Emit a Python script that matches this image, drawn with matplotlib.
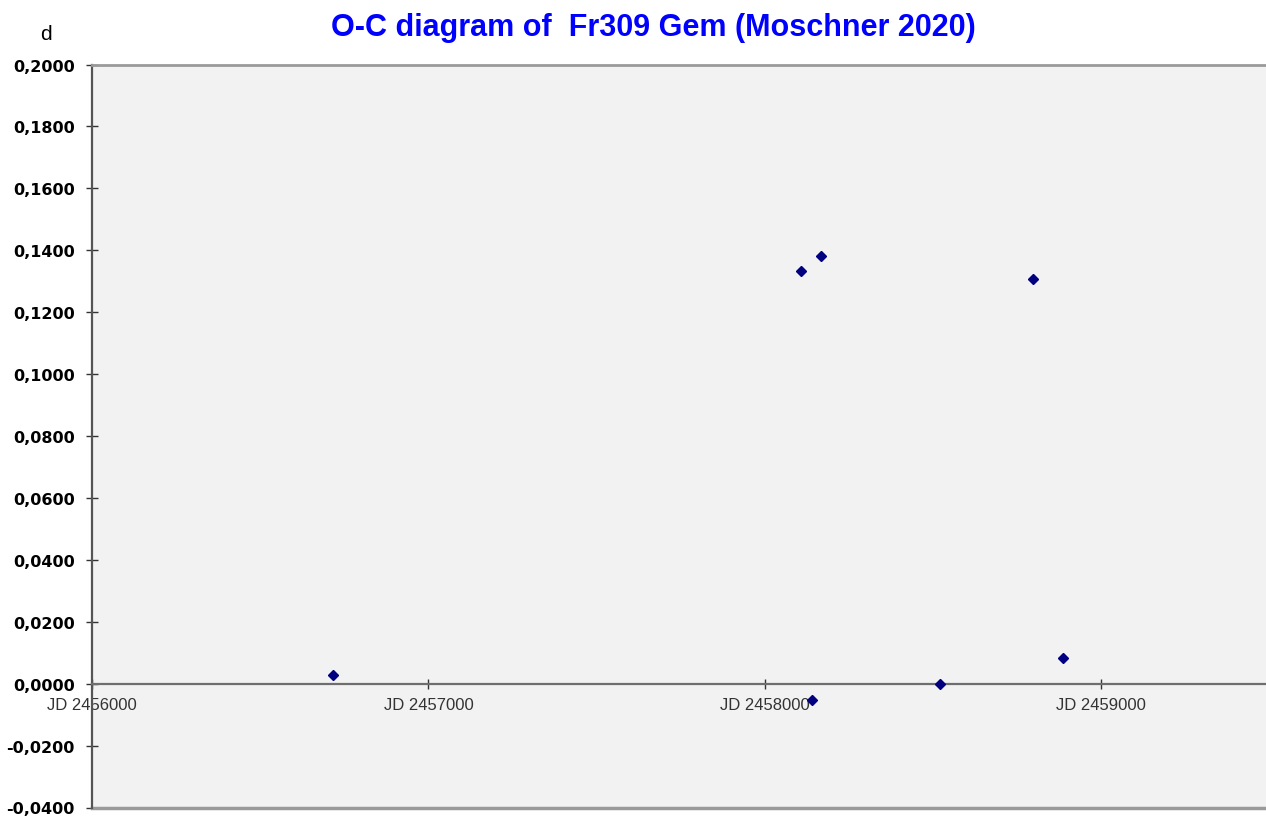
import matplotlib
matplotlib.use("Agg")
import matplotlib.pyplot as plt
from matplotlib.ticker import FuncFormatter

# O-C data (JD, days)
jd = [2456717, 2458108, 2458168, 2458141, 2458522, 2458797, 2458887]
oc = [0.0027, 0.1334, 0.1382, -0.0053, -0.0001, 0.1307, 0.0083]

x_ticks = [2456000, 2457000, 2458000, 2459000]
x_labels = ["JD 2456000", "JD 2457000", "JD 2458000", "JD 2459000"]
y_ticks = [-0.04, -0.02, 0.0, 0.02, 0.04, 0.06, 0.08, 0.10, 0.12, 0.14, 0.16, 0.18, 0.20]

TITLE = "O-C diagram of  Fr309 Gem (Moschner 2020)"

fig = plt.figure(figsize=(12.66, 8.2), dpi=100, facecolor="white")
ax = fig.add_axes([92 / 1266, 1 - 808.5 / 820, 1 - 92 / 1266, (808.5 - 65.5) / 820])
ax.set_facecolor("#f2f2f2")

ax.plot(jd, oc, linestyle="none", marker="D", markersize=5.5,
        color="#000080", zorder=5, clip_on=False)

ax.set_xlim(2456000, 2459490)
ax.set_ylim(-0.04, 0.20)

# x axis sits on the zero line
ax.spines["bottom"].set_position(("data", 0))
ax.spines["bottom"].set_color("#6e6e6e")
ax.spines["bottom"].set_linewidth(1.6)
ax.spines["left"].set_color("#555555")
ax.spines["left"].set_linewidth(1.6)
ax.spines["top"].set_color("#9a9a9a")
ax.spines["top"].set_linewidth(2)
ax.spines["right"].set_visible(False)
# frame line at the bottom of the plot area
ax.plot([0, 1], [0, 0], transform=ax.transAxes, color="#9a9a9a", lw=2.5, clip_on=False)

ax.set_xticks(x_ticks)
ax.set_xticklabels(x_labels, fontsize=12, color="#333333", family="Liberation Sans")
ax.tick_params(axis="x", direction="inout", length=7, width=1, color="#333333", pad=6)

ax.set_yticks(y_ticks)
ax.yaxis.set_major_formatter(FuncFormatter(lambda v, p: f"{v:.4f}".replace(".", ",")))
ax.tick_params(axis="y", direction="inout", length=9, width=1, color="#333333",
               labelsize=11.5, pad=8)
for lab in ax.get_yticklabels():
    lab.set_fontweight("bold")

fig.text(653 / 1266, 1 - 28 / 820, TITLE, ha="center", va="center", color="#0000ff",
         fontsize=22, fontweight="bold", family="Liberation Sans")
fig.text(46 / 1266, 1 - 35 / 820, "d", ha="center", va="center", color="black",
         fontsize=15, family="Liberation Sans")

fig.savefig("out.png", dpi=100, facecolor="white")
